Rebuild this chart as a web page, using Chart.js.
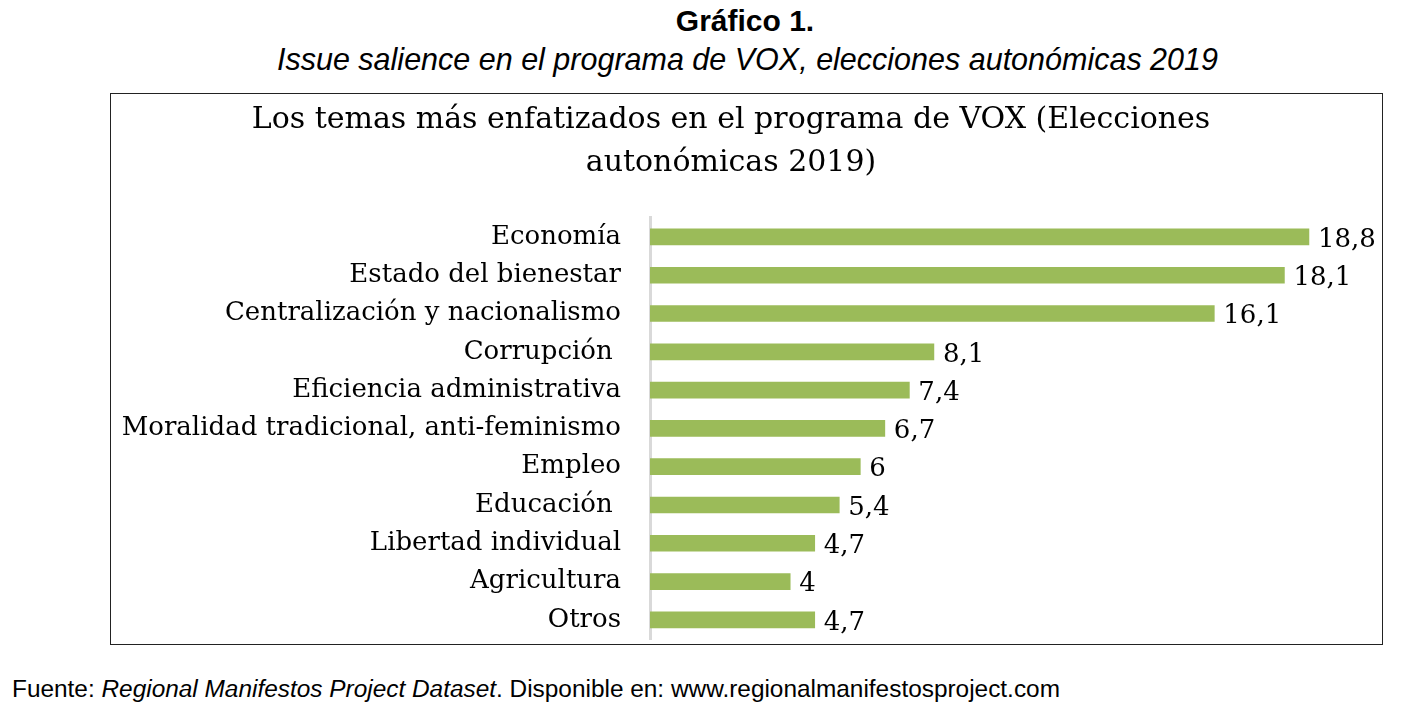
<!DOCTYPE html>
<html>
<head>
<meta charset="utf-8">
<script src="https://cdn.jsdelivr.net/npm/chart.js@4"></script>
<style>
  body { margin: 0; background: #fff; width: 1413px; height: 717px; position: relative; overflow: hidden; font-family: "Liberation Sans", Arial, sans-serif; }
  #head1 { position: absolute; top: 4px; left: 0; width: 1490px; text-align: center; font-weight: bold; font-size: 30px; color: #000; }
  #head2 { position: absolute; top: 42px; left: 0; width: 1495px; text-align: center; font-style: italic; font-size: 30.5px; color: #000; }
  #box { position: absolute; left: 110px; top: 93px; width: 1271px; height: 550px; border: 1px solid #222; }
  #wrap { position: absolute; left: 0; top: 0; width: 1271px; height: 550px; }
  #foot { position: absolute; left: 12px; top: 675px; font-size: 24.4px; color: #000; }
</style>
</head>
<body>
<div id="head1">Gráfico 1.</div>
<div id="head2">Issue salience en el programa de VOX, elecciones autonómicas 2019</div>
<div id="box"><div id="wrap"><canvas id="temas"></canvas></div></div>
<div id="foot">Fuente: <i>Regional Manifestos Project Dataset</i>. Disponible en: www.regionalmanifestosproject.com</div>
<script>
const temas = ["Economía", "Estado del bienestar", "Centralización y nacionalismo", "Corrupción ", "Eficiencia administrativa", "Moralidad tradicional, anti-feminismo", "Empleo", "Educación ", "Libertad individual", "Agricultura", "Otros"]
const porcentajes = [18.8, 18.1, 16.1, 8.1, 7.4, 6.7, 6, 5.4, 4.7, 4, 4.7]

const serif = "'DejaVu Serif', 'Liberation Serif', serif"

// etiquetas con coma decimal al final de cada barra
const valueLabels = {
	id: "valueLabels",
	afterDatasetsDraw(chart) {
		const ctx = chart.ctx
		const meta = chart.getDatasetMeta(0)
		ctx.save()
		ctx.font = "26px " + serif
		ctx.fillStyle = "#000"
		ctx.textBaseline = "middle"
		meta.data.forEach((bar, i) => {
			const txt = String(porcentajes[i]).replace(".", ",")
			ctx.fillText(txt, bar.x + 9, bar.y + 3)
		})
		ctx.restore()
	}
}

const ctxTemas = document.getElementById("temas")

new Chart(ctxTemas, {
	type: "bar",
	data: {
		labels: temas,
		datasets: [{
			data: porcentajes,
			backgroundColor: "#9bbb59",
			barThickness: 16
		}]
	},
	options: {
		indexAxis: "y",
		responsive: true,
		maintainAspectRatio: false,
		animation: false,
		layout: { padding: { top: 0, right: 31, bottom: 5, left: 0 } },
		plugins: {
			legend: { display: false },
			tooltip: { enabled: false },
			title: {
				display: true,
				text: ["Los temas más enfatizados en el programa de VOX (Elecciones", "autonómicas 2019)"],
				font: { family: serif, size: 30, weight: "normal", lineHeight: 1.43 },
				color: "#000",
				padding: { top: 5, bottom: 33 }
			}
		},
		scales: {
			x: {
				display: false,
				min: 0,
				max: 20
			},
			y: {
				afterFit(scale) {
					scale.width = 539
					scale.paddingTop = 0
					scale.paddingBottom = 0
				},
				grid: { display: true, drawOnChartArea: false, drawTicks: false, color: "rgba(0,0,0,0)" },
				border: { display: true, color: "#d9d9d9", width: 3 },
				ticks: {
					color: "#000",
					padding: 29,
					font: { family: serif, size: 26 }
				}
			}
		}
	},
	plugins: [valueLabels]
})
</script>
</body>
</html>
